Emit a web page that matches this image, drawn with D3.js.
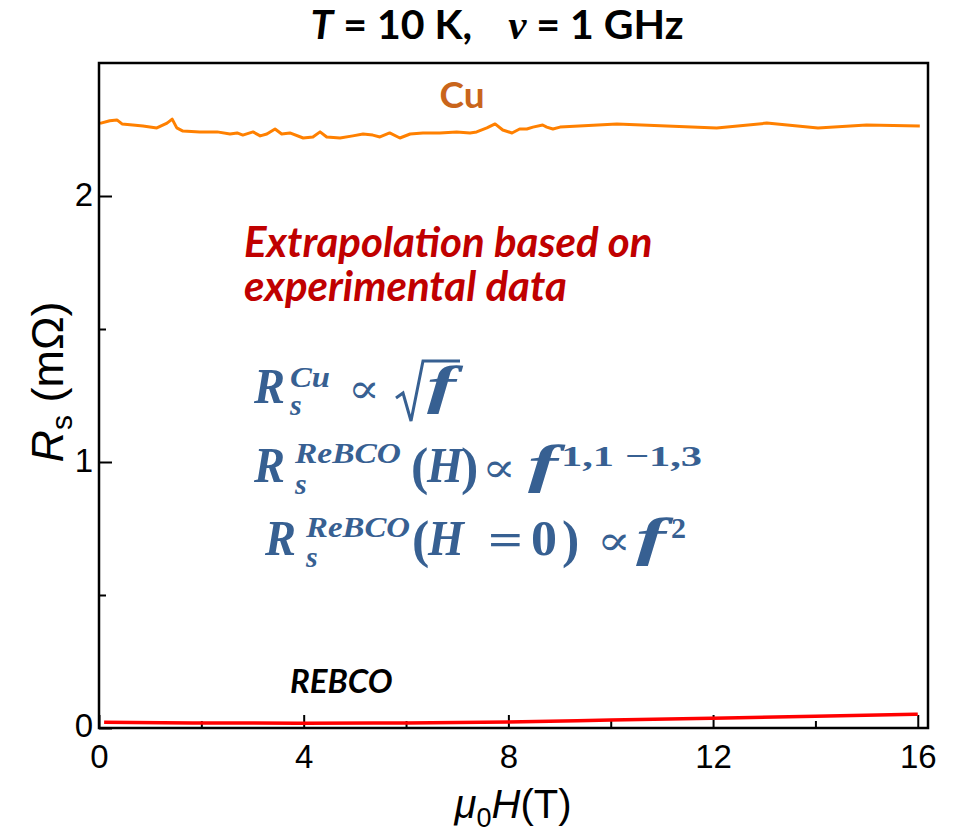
<!DOCTYPE html>
<html>
<head>
<meta charset="utf-8">
<script src="https://cdn.jsdelivr.net/npm/d3@7"></script>
<style>
  body { margin: 0; background: #fff; }
  svg { display: block; }
</style>
</head>
<body>
<svg id="chart" width="964" height="832"></svg>
<script>
// Surface resistance of Cu vs magnetic field (measured, noisy up to ~9 T)
const fieldCu = [0.02, 0.21, 0.35, 0.45, 0.66, 0.86, 1.13, 1.33, 1.43, 1.52, 1.64, 1.97, 2.31, 2.56, 2.70,
  2.81, 3.01, 3.15, 3.28, 3.44, 3.57, 3.73, 3.99, 4.18, 4.32, 4.45, 4.71, 4.96, 5.16, 5.35, 5.49, 5.68,
  5.88, 6.08, 6.33, 6.66, 6.99, 7.25, 7.38, 7.58, 7.74, 7.89, 8.07, 8.22, 8.36, 8.48, 8.67, 8.75, 8.87,
  9.01, 10.12, 12.07, 13.05, 14.05, 15.0, 16.04];
const rsCu = [2.273, 2.283, 2.286, 2.271, 2.267, 2.263, 2.256, 2.274, 2.289, 2.256, 2.244, 2.241, 2.241,
  2.233, 2.237, 2.229, 2.241, 2.226, 2.233, 2.252, 2.233, 2.237, 2.218, 2.222, 2.241, 2.222, 2.218, 2.226,
  2.233, 2.229, 2.222, 2.237, 2.218, 2.233, 2.237, 2.237, 2.241, 2.237, 2.241, 2.256, 2.271, 2.248, 2.237,
  2.252, 2.252, 2.259, 2.267, 2.259, 2.252, 2.259, 2.271, 2.256, 2.274, 2.256, 2.267, 2.263];

// Surface resistance of REBCO vs magnetic field (extrapolated)
const fieldRebco = [0.1, 2, 4, 6, 8, 10, 12, 14, 16];
const rsRebco = [0.022, 0.019, 0.018, 0.019, 0.023, 0.030, 0.037, 0.044, 0.052];

// Axis ticks
const xMajorTicks = [0, 4, 8, 12, 16];
const xMinorTicks = [2, 6, 10, 14];
const yMajorTicks = [0, 1, 2];
const yMinorTicks = [0.5, 1.5];

const svg = d3.select("#chart");
const plot = { left: 99, right: 928, top: 63, bottom: 728 };

const x = d3.scaleLinear().domain([0, 16.2]).range([plot.left, plot.right]);
const y = d3.scaleLinear().domain([0, 2.5]).range([plot.bottom, plot.top]);

const tickFont = "'Liberation Sans', Arial, sans-serif";

// ---- axes (ticks point inward) ----
const gx = svg.append("g").attr("transform", `translate(0,${plot.bottom})`)
  .call(d3.axisBottom(x).tickValues(xMajorTicks).tickSizeInner(-13).tickSizeOuter(0).tickPadding(17)
    .tickFormat(d3.format("d")));
const gxm = svg.append("g").attr("transform", `translate(0,${plot.bottom})`)
  .call(d3.axisBottom(x).tickValues(xMinorTicks).tickSizeInner(-7).tickSizeOuter(0).tickFormat(""));
const gy = svg.append("g").attr("transform", `translate(${plot.left},0)`)
  .call(d3.axisLeft(y).tickValues(yMajorTicks).tickSizeInner(-13).tickSizeOuter(0).tickPadding(6)
    .tickFormat(d3.format("d")));
const gym = svg.append("g").attr("transform", `translate(${plot.left},0)`)
  .call(d3.axisLeft(y).tickValues(yMinorTicks).tickSizeInner(-7).tickSizeOuter(0).tickFormat(""));

[gx, gxm, gy, gym].forEach(g => {
  g.select(".domain").remove();
  g.selectAll(".tick line").attr("stroke", "#000").attr("stroke-width", 2);
  g.selectAll(".tick text").attr("fill", "#000").attr("font-family", tickFont).attr("font-size", 33);
});
gy.selectAll(".tick text").attr("dy", "0.3em");
gy.selectAll(".tick").filter(d => d === 0).select("text").attr("dy", "0.25em");

// ---- data lines ----
const cuData = fieldCu.map((f, i) => [f, rsCu[i]]);
const rebcoData = fieldRebco.map((f, i) => [f, rsRebco[i]]);

svg.append("path")
  .datum(cuData)
  .attr("fill", "none")
  .attr("stroke", "#ff8000")
  .attr("stroke-width", 3)
  .attr("stroke-linejoin", "round")
  .attr("d", d3.line().x(d => x(d[0])).y(d => y(d[1])));

svg.append("path")
  .datum(rebcoData)
  .attr("fill", "none")
  .attr("stroke", "#ff0000")
  .attr("stroke-width", 3.5)
  .attr("d", d3.line().curve(d3.curveMonotoneX).x(d => x(d[0])).y(d => y(d[1])));

// ---- frame ----
svg.append("rect")
  .attr("x", plot.left).attr("y", plot.top)
  .attr("width", plot.right - plot.left).attr("height", plot.bottom - plot.top)
  .attr("fill", "none").attr("stroke", "#000").attr("stroke-width", 2.5);

// ---- axis titles ----
const xt = svg.append("text")
  .attr("x", 513).attr("y", 818)
  .attr("text-anchor", "middle")
  .attr("font-family", tickFont).attr("font-size", 40).attr("fill", "#000");
xt.append("tspan").attr("font-style", "italic").text("μ");
xt.append("tspan").attr("font-size", 27).attr("dy", 9).text("0");
xt.append("tspan").attr("font-style", "italic").attr("dy", -9).text("H");
xt.append("tspan").text("(T)");

const yt = svg.append("text")
  .attr("transform", "translate(63,382) rotate(-90)")
  .attr("text-anchor", "middle")
  .attr("font-family", tickFont).attr("font-size", 45).attr("fill", "#000");
yt.append("tspan").attr("font-style", "italic").text("R");
yt.append("tspan").attr("font-size", 30).attr("dy", 9).text("s");
yt.append("tspan").attr("dy", -9).text(" (mΩ)");

// ---- title ----
const titleFont = "Lato, 'Open Sans', sans-serif";
const title = svg.append("text")
  .attr("x", 497).attr("y", 39)
  .attr("text-anchor", "middle")
  .attr("font-family", titleFont).attr("font-weight", "bold").attr("font-size", 41).attr("fill", "#000");
title.append("tspan").attr("font-style", "italic").text("T");
title.append("tspan").text(" = 10 K,");
title.append("tspan").attr("dx", 36).attr("font-style", "italic")
  .attr("font-family", "'Liberation Serif', serif").text("ν");
title.append("tspan").text(" = 1 GHz");

// ---- series labels ----
svg.append("text")
  .attr("x", 462).attr("y", 108).attr("text-anchor", "middle")
  .attr("font-family", titleFont).attr("font-weight", "bold").attr("font-size", 37)
  .attr("fill", "#c9651b").text("Cu");

svg.append("text")
  .attr("x", 290).attr("y", 693)
  .attr("font-family", titleFont).attr("font-weight", "bold").attr("font-style", "italic")
  .attr("font-size", 33).attr("fill", "#000").text("REBCO");

// ---- annotation ----
const note = svg.append("g")
  .attr("font-family", titleFont).attr("font-weight", "bold").attr("font-style", "italic")
  .attr("font-size", 42).attr("fill", "#c00000");
note.append("text").attr("x", 244).attr("y", 257).text("Extrapolation based on");
note.append("text").attr("x", 244).attr("y", 301).text("experimental data");

// ---- scaling-law formulas ----
const mathFont = "'Liberation Serif', 'DejaVu Serif', serif";
const symFont = "'DejaVu Serif', serif";
const mathColor = "#376092";
const mg = svg.append("g").attr("fill", mathColor).attr("font-family", mathFont).attr("font-weight", "bold");

// piece: [text, x, baseline, size, style, width]; style: "i" italic, "n" upright, "sym" symbol font
function putPiece(p) {
  const [txt, px, py, size, style, w] = p;
  const t = mg.append("text").attr("x", px).attr("y", py).attr("font-size", size)
    .attr("font-style", style === "i" ? "italic" : "normal").text(txt);
  if (style === "sym") t.attr("font-family", symFont).attr("font-weight", "normal");
  if (w) t.attr("textLength", w).attr("lengthAdjust", "spacingAndGlyphs");
}

const formulaCu = [
  ["R", 254, 403, 50, "i", 31],
  ["Cu", 290, 387, 30, "i", 40],
  ["s", 290, 415, 30, "i"],
  ["∝", 348, 403, 42, "sym", 32],
  ["f", 427, 403, 52, "i", 29]
];
const formulaRebcoH = [
  ["R", 254, 482, 50, "i", 31],
  ["ReBCO", 295, 463, 30, "i", 106],
  ["s", 295, 494, 30, "i"],
  ["(", 411, 484, 52, "n"],
  ["H", 427, 482, 50, "i", 36],
  [")", 461, 484, 52, "n"],
  ["∝", 482, 482, 42, "sym", 34],
  ["f", 528, 482, 52, "i", 30],
  ["1,1 −1,3", 561, 466, 30, "n", 141]
];
const formulaRebco0 = [
  ["R", 265, 555, 50, "i", 31],
  ["ReBCO", 306, 537, 30, "i", 104],
  ["s", 306, 567, 30, "i"],
  ["(", 412, 557, 52, "n"],
  ["H", 428, 555, 50, "i", 36],
  ["=", 488, 555, 46, "n", 35],
  ["0", 531, 555, 50, "n", 26],
  [")", 562, 557, 52, "n"],
  ["∝", 597, 555, 42, "sym", 34],
  ["f", 636, 555, 52, "i", 30],
  ["2", 671, 538, 30, "n"]
];
[formulaCu, formulaRebcoH, formulaRebco0].forEach(f => f.forEach(putPiece));

// radical sign over f
mg.append("path")
  .attr("d", "M396,398 L403,393 L411,421 L423,361 L460,361")
  .attr("fill", "none").attr("stroke", mathColor).attr("stroke-width", 3)
  .attr("stroke-linejoin", "miter");
</script>
</body>
</html>
